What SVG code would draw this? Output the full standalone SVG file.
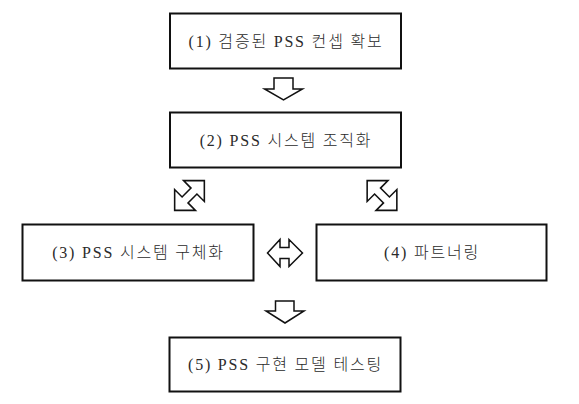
<svg xmlns="http://www.w3.org/2000/svg" width="579" height="404" viewBox="0 0 579 404">
<style>
.box{fill:#fff;stroke:#111;stroke-width:2}
.lbl{font-family:"Liberation Serif","Noto Sans CJK KR",serif;font-size:16px;font-weight:300;letter-spacing:1.8px;fill:#2a2a2a;text-anchor:middle}
.arr{fill:#fff;stroke:#111;stroke-width:1.5;stroke-linejoin:miter}
</style>
<defs>
<polygon id="diag" points="14.14,-14.14 14.14,5.66 7.07,-1.41 -1.41,7.07 5.66,14.14 -14.14,14.14 -14.14,-5.66 -7.07,1.41 1.41,-7.07 -5.66,-14.14"/>
</defs>
<rect width="579" height="404" fill="#fff"/>
<g id="connectors">
<polygon class="arr" points="274,78 293,78 293,89 302.5,89 283.5,100 264.5,89 274,89"/>
<use href="#diag" class="arr" transform="translate(189.5,195.5) scale(1.05)"/>
<use href="#diag" class="arr" transform="translate(382,195.5) scale(-1.05,1.05)"/>
<polygon class="arr" points="267.5,253 280,239.5 280,247.5 289,247.5 289,239.5 302.5,253 289,266.5 289,258.5 280,258.5 280,266.5"/>
<polygon class="arr" points="275.5,301 294,301 294,311 304,311 285,323 266,311 275.5,311"/>
</g>
<g id="n1"><rect class="box" x="170" y="13.5" width="231" height="55"/><text class="lbl" x="286" y="47">(1) 검증된 PSS 컨셉 확보</text></g>
<g id="n2"><rect class="box" x="170" y="112.5" width="231" height="55"/><text class="lbl" x="286" y="146">(2) PSS 시스템 조직화</text></g>
<g id="n3"><rect class="box" x="22.5" y="224.5" width="231" height="56"/><text class="lbl" x="138.5" y="258">(3) PSS 시스템 구체화</text></g>
<g id="n4"><rect class="box" x="316.5" y="224.5" width="230" height="56"/><text class="lbl" x="432" y="258">(4) 파트너링</text></g>
<g id="n5"><rect class="box" x="169.5" y="337.5" width="231" height="54"/><text class="lbl" x="285.5" y="370">(5) PSS 구현 모델 테스팅</text></g>
</svg>
